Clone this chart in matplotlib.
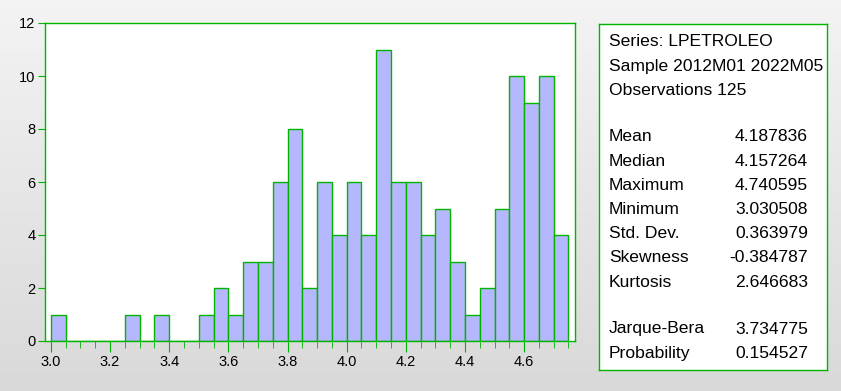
import numpy as np
import matplotlib.pyplot as plt

plt.rcParams['font.family'] = ['Liberation Sans', 'DejaVu Sans']

# bin left edges (width 0.05) and counts
bin_edges = [3.00, 3.05, 3.10, 3.15, 3.20, 3.25, 3.30, 3.35, 3.40, 3.45,
             3.50, 3.55, 3.60, 3.65, 3.70, 3.75, 3.80, 3.85, 3.90, 3.95,
             4.00, 4.05, 4.10, 4.15, 4.20, 4.25, 4.30, 4.35, 4.40, 4.45,
             4.50, 4.55, 4.60, 4.65, 4.70]
counts = [1, 0, 0, 0, 0, 1, 0, 1, 0, 0,
          1, 2, 1, 3, 3, 6, 8, 2, 6, 4,
          6, 4, 11, 6, 6, 4, 5, 3, 1, 2,
          5, 10, 9, 10, 4]
bin_width = 0.05

header_lines = ["Series: LPETROLEO", "Sample 2012M01 2022M05", "Observations 125"]
stat_names = ["Mean", "Median", "Maximum", "Minimum", "Std. Dev.", "Skewness", "Kurtosis"]
stat_values = ["4.187836", "4.157264", "4.740595", "3.030508", "0.363979", "-0.384787", "2.646683"]
test_names = ["Jarque-Bera", "Probability"]
test_values = ["3.734775", "0.154527"]

W, H = 841, 391
fig = plt.figure(figsize=(W / 100, H / 100), dpi=100)

# grey gradient background
bg = fig.add_axes([0, 0, 1, 1], zorder=-5)
grad = np.linspace(0.955, 0.85, 256).reshape(-1, 1)
bg.imshow(np.dstack([grad, grad, grad]), aspect='auto', extent=[0, 1, 0, 1])
bg.axis('off')

green = '#00b400'
ax = fig.add_axes([45 / W, 1 - 341 / H, (575 - 45) / W, (341 - 23) / H])
ax.set_facecolor('white')
ax.bar(bin_edges, counts, width=bin_width, align='edge', color='#b6b8ff',
       edgecolor=green, linewidth=1.0)
ax.set_xlim(2.980, 4.772)
ax.set_ylim(0, 12)
for s in ax.spines.values():
    s.set_color(green)
    s.set_linewidth(1.0)
ax.set_xticks(np.arange(3.0, 4.61, 0.2))
ax.set_xticklabels([f"{v:.1f}" for v in np.arange(3.0, 4.61, 0.2)])
ax.set_xticks(np.arange(3.0, 4.76, 0.05), minor=True)
ax.set_yticks(range(0, 13, 2))
ax.tick_params(axis='x', which='major', length=8, color=green, labelsize=10.5, pad=2)
ax.tick_params(axis='x', which='minor', length=5, color=green)
ax.tick_params(axis='y', length=5, color=green, labelsize=10.5, pad=2)

# stats box
box = fig.add_axes([599 / W, 1 - 370 / H, (827 - 599) / W, (370 - 24) / H])
box.set_xticks([])
box.set_yticks([])
box.set_facecolor('white')
for s in box.spines.values():
    s.set_color(green)
    s.set_linewidth(1.0)

fs = 12.6
x_left = 609 / W
x_right = 808 / W
y = 42
for line in header_lines:
    fig.text(x_left, 1 - y / H, line, fontsize=fs, va='center', ha='left')
    y += 24.2
y = 137
for name, val in zip(stat_names, stat_values):
    fig.text(x_left, 1 - y / H, name, fontsize=fs, va='center', ha='left')
    fig.text(x_right, 1 - y / H, val, fontsize=fs, va='center', ha='right')
    y += 24.2
y = 329
for name, val in zip(test_names, test_values):
    fig.text(x_left, 1 - y / H, name, fontsize=fs, va='center', ha='left')
    fig.text(x_right, 1 - y / H, val, fontsize=fs, va='center', ha='right')
    y += 24.2

fig.savefig('out.png', dpi=100)
